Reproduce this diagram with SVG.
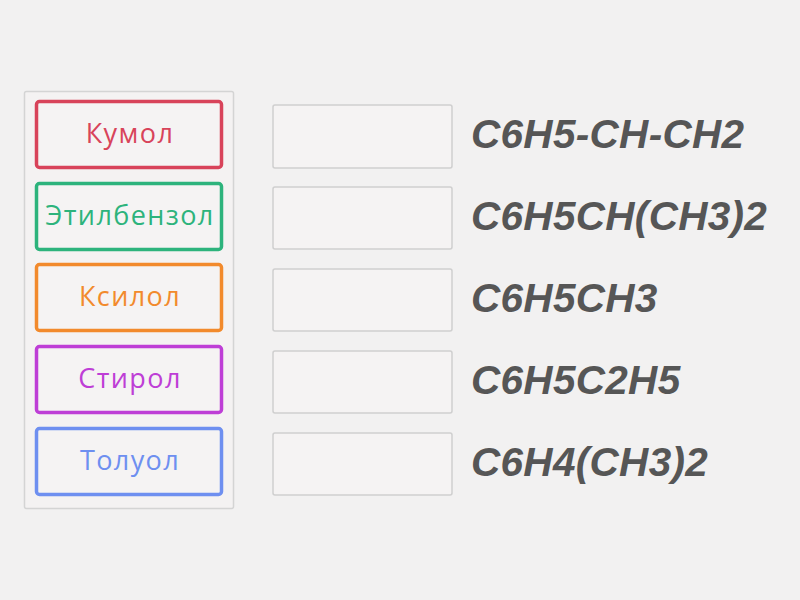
<svg xmlns="http://www.w3.org/2000/svg" width="800" height="600" viewBox="0 0 800 600">
<style>
.card{fill:#f5f3f3;stroke-width:3.5;rx:3}
.lbl{font-family:"Open Sans","Noto Sans",sans-serif;font-size:27px;letter-spacing:1.4px;text-anchor:middle}
.slot{fill:#f5f3f3;stroke:#cfcfcf;stroke-width:1.5}
.f{font-family:"Liberation Sans",Arial,sans-serif;font-weight:bold;font-style:italic;font-size:40.5px;letter-spacing:0.3px;fill:#565656}
</style>
<rect width="800" height="600" fill="#f2f1f1"/>
<rect x="24.5" y="91.5" width="209" height="417" rx="2" fill="#f4f2f2" stroke="#d4d4d4" stroke-width="1.5"/>
<g id="n1"><rect class="card" x="36.5" y="101.5" width="185" height="66" stroke="#d8435a"/><text class="lbl" x="130" y="143" fill="#d8435a">Кумол</text></g>
<g id="n2"><rect class="card" x="36.5" y="183.5" width="185" height="66" stroke="#2db37c"/><text class="lbl" x="130" y="225" fill="#2db37c">Этилбензол</text></g>
<g id="n3"><rect class="card" x="36.5" y="264.5" width="185" height="66" stroke="#f28a2c"/><text class="lbl" x="130" y="306" fill="#f28a2c">Ксилол</text></g>
<g id="n4"><rect class="card" x="36.5" y="346.5" width="185" height="66" stroke="#be3ed6"/><text class="lbl" x="130" y="388" fill="#be3ed6">Стирол</text></g>
<g id="n5"><rect class="card" x="36.5" y="428.5" width="185" height="66" stroke="#6e8ff0"/><text class="lbl" x="130" y="470" fill="#6e8ff0">Толуол</text></g>
<g id="slots">
<rect class="slot" x="273" y="105" width="179" height="63" rx="2"/>
<rect class="slot" x="273" y="187" width="179" height="62" rx="2"/>
<rect class="slot" x="273" y="269" width="179" height="62" rx="2"/>
<rect class="slot" x="273" y="351" width="179" height="62" rx="2"/>
<rect class="slot" x="273" y="433" width="179" height="62" rx="2"/>
</g>
<g id="formulas">
<text class="f" x="471" y="148">C6H5-CH-CH2</text>
<text class="f" x="471" y="230">C6H5CH(CH3)2</text>
<text class="f" x="471" y="312">C6H5CH3</text>
<text class="f" x="471" y="394">C6H5C2H5</text>
<text class="f" x="471" y="476">C6H4(CH3)2</text>
</g>
<g id="connectors"/>
</svg>
